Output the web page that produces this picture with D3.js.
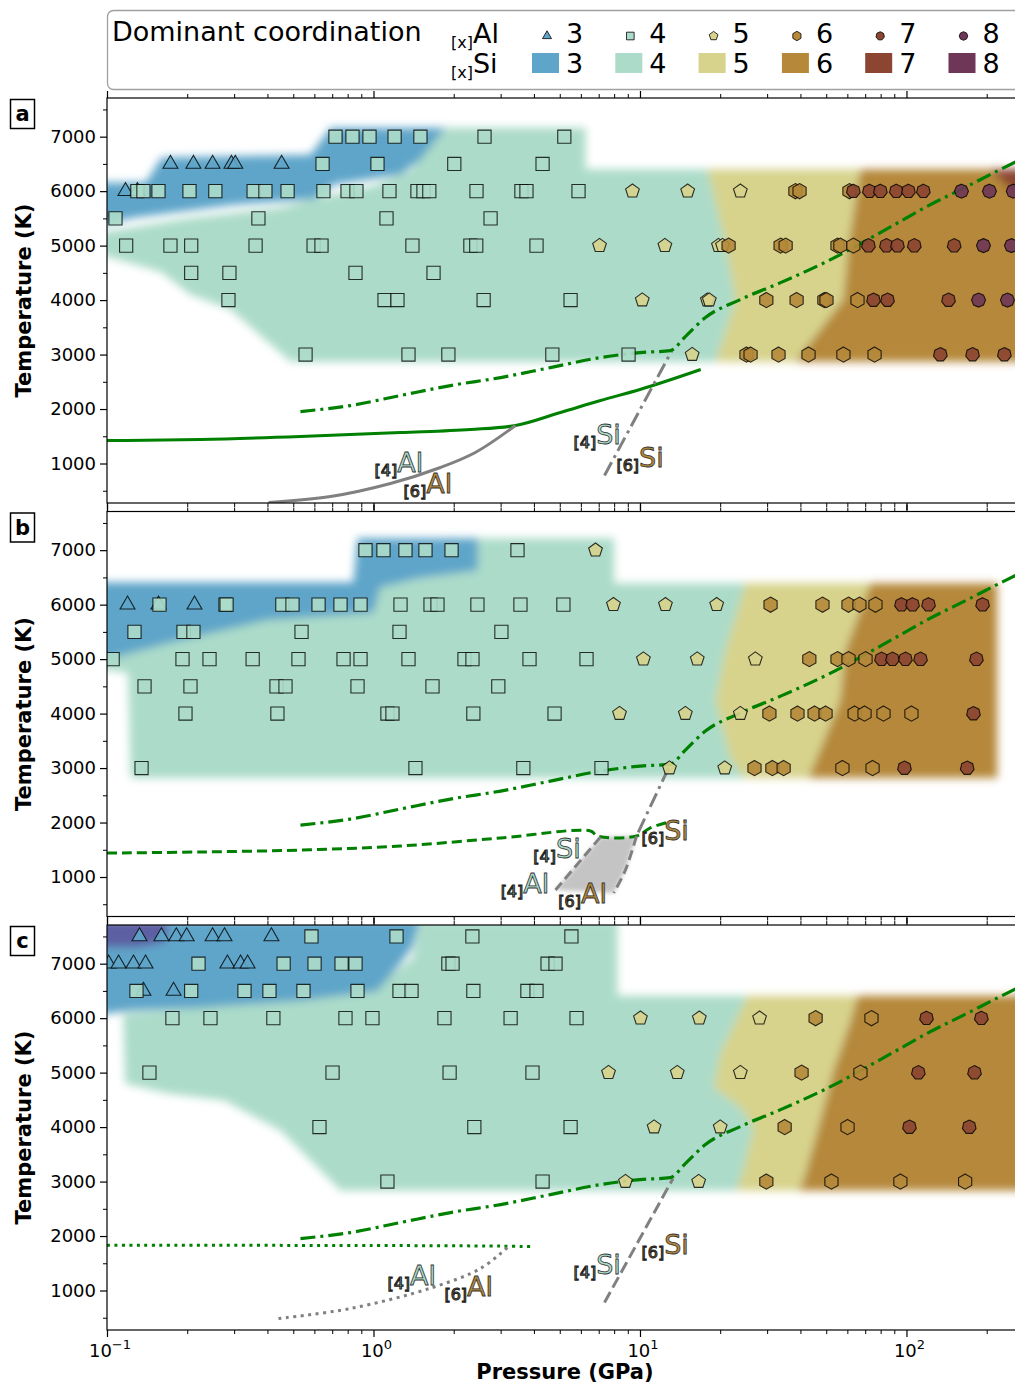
<!DOCTYPE html>
<html><head><meta charset="utf-8">
<script src="https://cdn.jsdelivr.net/npm/d3@7"></script>
<style>body{margin:0;background:#fff}svg{display:block}text{font-family:"DejaVu Sans",sans-serif}</style>
</head><body><svg id="c" width="1015" height="1385"></svg>
<script>
// ---------- data ----------
const coordNums = [3,4,5,6,7,8];
const coordColors = {2:"#5d5fa3",3:"#5fa5c9",4:"#acdbc9",5:"#d7d38c",6:"#b5883a",7:"#8b4531",8:"#6e3657"};
const yTicks = [1000,2000,3000,4000,5000,6000,7000];
const xTicks = [0.1,1,10,100];
const xTickExp = ["\u22121","0","1","2"];
const panelNames = ["a","b","c"];

// points: [T (K), coordination, [pressures GPa]]
const pointsA = [
 [7000,4,[0.72,0.834,0.966,1.2,1.5,2.61,5.2]],
 [6500,3,[0.173,0.211,0.249,0.293,0.303,0.452]],
 [6500,4,[0.644,1.035,2.01,4.31]],
 [6000,3,[0.1173,0.130]],
 [6000,4,[0.130,0.137,0.156,0.204,0.255,0.355,0.393,0.476,0.649,0.799,0.863,1.148,1.462,1.54,1.62,2.435,3.59,3.75,5.88]],
 [6000,5,[9.37,15.1,23.8]],
 [6000,6,[38.3,39.7,61.1]],
 [6000,7,[63.2,72.6,79.8,91.6,101.7,115.7]],
 [6000,8,[160.8,204.8,251.7]],
 [5500,4,[0.1076,0.370,1.119,2.75]],
 [5000,4,[0.118,0.173,0.207,0.361,0.596,0.638,1.40,2.31,2.43,4.09]],
 [5000,5,[7.05,12.4,19.7,20.4]],
 [5000,6,[21.5,33.7,35.2,55.1,56.5,63.2]],
 [5000,7,[72.0,84.1,92.5,107,151]],
 [5000,8,[194.5,247.7]],
 [4500,4,[0.207,0.288,0.856,1.68]],
 [4000,4,[0.2856,1.10,1.23,2.59,5.49]],
 [4000,5,[10.2,17.9,18.2]],
 [4000,6,[29.8,38.7,49.2,50.1,65.5]],
 [4000,7,[75.2,84.9,143.8]],
 [4000,8,[186.4,239.3]],
 [3000,4,[0.556,1.353,1.91,4.69,9.06]],
 [3000,5,[15.7]],
 [3000,6,[25.1,26.0,33.1,42.9,58.0,75.9]],
 [3000,7,[134,177,233]]
];
const pointsB = [
 [7000,4,[0.933,1.09,1.318,1.567,1.963,3.47]],
 [7000,5,[6.81]],
 [6000,3,[0.1194,0.156,0.213]],
 [6000,4,[0.1574,0.2784,0.281,0.455,0.4966,0.622,0.752,0.894,1.263,1.637,1.738,2.455,3.56,5.16]],
 [6000,5,[7.95,12.46,19.4]],
 [6000,6,[30.9,48.4,60.6,66.6,76.5]],
 [6000,7,[95.8,105.4,121,193]],
 [5500,4,[0.1268,0.1937,0.211,0.537,1.252,3.02]],
 [5000,4,[0.105,0.192,0.2425,0.352,0.523,0.772,0.894,1.353,2.195,2.352,3.85,6.30]],
 [5000,5,[10.3,16.4,27.1]],
 [5000,6,[43.2,55.1,60.6,70.2]],
 [5000,7,[80.6,88.6,99.1,112.9,183]],
 [4500,4,[0.1383,0.2057,0.4326,0.4675,0.871,1.665,2.94]],
 [4000,4,[0.197,0.436,1.128,1.178,2.37,4.78]],
 [4000,5,[8.38,14.8,23.8]],
 [4000,6,[30.6,39.0,45.2,49.7,63.9,69.6,82.0,104.4]],
 [4000,7,[178.4]],
 [3000,4,[0.1348,1.437,3.65,7.17]],
 [3000,5,[12.9,20.8]],
 [3000,6,[26.9,31.4,34.6,57.5,74.6]],
 [3000,7,[98.3,169]]
];
const pointsC = [
 [7500,3,[0.1324,0.160,0.182,0.199,0.249,0.276,0.414]],
 [7500,4,[0.585,1.22,2.35,5.53]],
 [7000,3,[0.1014,0.1105,0.1257,0.1395,0.283,0.317,0.337]],
 [7000,4,[0.2205,0.460,0.601,0.759,0.856,1.91,1.98,4.50,4.82]],
 [6500,3,[0.137,0.1777]],
 [6500,4,[0.129,0.207,0.328,0.407,0.546,0.871,1.252,1.389,2.37,3.78,4.09]],
 [6000,4,[0.176,0.2445,0.421,0.785,0.991,1.846,3.27,5.78]],
 [6000,5,[10.04,16.7,28.1]],
 [6000,6,[45.6,73.9]],
 [6000,7,[118.9,191]],
 [5000,4,[0.1443,0.702,1.93,3.95]],
 [5000,5,[7.62,13.8,23.8]],
 [5000,6,[40.4,67.2]],
 [5000,7,[110.8,180]],
 [4000,4,[0.627,2.39,5.49]],
 [4000,5,[11.3,20.0]],
 [4000,6,[34.9,60.1]],
 [4000,7,[102.6,172]],
 [3000,4,[1.128,4.31]],
 [3000,5,[8.82,16.6]],
 [3000,6,[29.8,52.3,94.9,166]]
];

// dominant-coordination regions: [coordination, [[P,T],...]]
const regionsA = [
 [4,[[0.085,5200],[0.2,5500],[0.45,5700],[0.65,5900],[1.0,6100],[1.4,6400],[1.7,7165],[6.25,7165],[6.25,6400],[17.9,6400],[20.9,5050],[22.8,4000],[19.2,2870],[0.49,2870],[0.29,3830],[0.206,4100],[0.159,4520],[0.085,4900]]],
 [3,[[0.085,6160],[0.14,6160],[0.16,6620],[0.58,6670],[0.69,7165],[1.86,7165],[1.5,6580],[1.26,6300],[0.71,6120],[0.6,5850],[0.3,5750],[0.126,5510],[0.085,5330]]],
 [5,[[17.9,6400],[67.2,6400],[60.6,5020],[58,4010],[47.5,3460],[38.3,2870],[19.2,2870],[22.8,4000],[20.9,5050]]],
 [6,[[67.2,6400],[320,6400],[320,2870],[38.3,2870],[47.5,3460],[58,4010],[60.6,5020]]],
 [7,[[205,6400],[320,6400],[320,5750],[245,6050]]]
];
const regionsB = [
 [4,[[0.085,4950],[0.17,5320],[0.4,5740],[1.0,5870],[1.06,6340],[1.8,6560],[2.0,7220],[8.0,7220],[8.0,6394],[24.9,6394],[20.9,5165],[19.2,4250],[21.9,3150],[24.9,2817],[0.1227,2817],[0.12,4750],[0.085,4850]]],
 [3,[[0.085,6410],[0.84,6410],[0.87,7220],[2.46,7220],[2.46,6630],[1.5,6490],[1.06,6320],[1.0,5850],[0.4,5720],[0.17,5290],[0.085,4900]]],
 [5,[[24.9,6394],[73.3,6394],[59,5165],[56.5,4250],[42.9,2817],[24.9,2817],[21.9,3150],[19.2,4250],[20.9,5165]]],
 [6,[[73.3,6394],[219,6394],[219,2817],[42.9,2817],[56.5,4250],[59,5165]]]
];
const regionsC = [
 [4,[[0.115,6083],[0.5,6350],[1.0,6550],[1.4,7100],[1.5,7800],[8.23,7800],[8.23,6413],[25.3,6413],[20.0,5349],[18.9,4725],[23.8,4358],[26.7,3991],[23.8,3018],[22.8,2835],[0.752,2835],[0.633,3202],[0.448,3936],[0.276,4486],[0.169,4615],[0.117,4798]]],
 [3,[[0.085,7800],[1.5,7800],[1.4,7300],[1.26,7000],[1.035,6500],[0.53,6320],[0.224,6190],[0.12,6130],[0.085,6040]]],
 [2,[[0.085,7800],[0.17,7800],[0.165,7400],[0.13,7300],[0.085,7300]]],
 [5,[[25.3,6413],[65.5,6413],[61.7,5954],[53.2,5037],[47.5,4119],[41.1,3018],[39.3,2835],[22.8,2835],[23.8,3018],[26.7,3991],[23.8,4358],[18.9,4725],[20.0,5349]]],
 [6,[[65.5,6413],[320,6413],[320,2835],[39.3,2835],[41.1,3018],[47.5,4119],[53.2,5037],[61.7,5954]]]
];

// curves [P, T]
const meltCurve = [[0.532,1954],[0.82,2064],[1.263,2248],[1.945,2431],[3.0,2578],[4.61,2761],[7.11,2945],[10,3037],[13.0,3073],[14.8,3330],[17.6,3679],[23.8,4009],[33.7,4321],[51.9,4743],[79.8,5239],[123,5752],[174,6119],[206,6303],[267,6580]];
const solidCurveA = [[0.1,1422],[0.224,1440],[0.532,1495],[1.263,1569],[2.31,1624],[3.41,1697],[5.03,1936],[7.11,2156],[10,2358],[16.9,2725]];
const alBoundaryA = [[0.404,284],[0.69,394],[1.158,633],[1.784,927],[2.41,1202],[3.41,1697]];
const siBoundaryA = [[7.36,780],[13.24,3092]];
const dashedCurveB = [[0.1,1440],[0.224,1459],[0.532,1495],[1.263,1569],[3.0,1716],[6.52,1844],[6.93,1752],[9.7,1752],[10.9,1899],[12.8,2009]];
const siUpperB = [[12.8,3000],[9.7,1752]];
const leftBoundaryB = [[7.11,1734],[4.82,761]];
const rightBoundaryB = [[9.7,1752],[8.82,1128],[7.97,706]];
const mixedZoneB = [[4.82,761],[7.11,1734],[9.7,1752],[8.82,1128],[7.97,706]];
const dottedCurveC = [[0.1,1830],[1.0,1826],[3.0,1815],[4.02,1805]];
const alBoundaryC = [[0.44,486],[0.82,670],[1.665,1055],[2.52,1404],[3.18,1789]];
const siBoundaryC = [[7.36,780],[13.3,3055]];

// phase labels: [coordination, element, P, T]
const labelsA = [[4,"Al",1.009,853],[6,"Al",1.296,450],[4,"Si",5.63,1349],[6,"Si",8.16,945]];
const labelsB = [[4,"Si",3.98,1349],[4,"Al",3.0,706],[6,"Al",4.94,523],[6,"Si",10.13,1679]];
const labelsC = [[4,"Al",1.128,1092],[6,"Al",1.846,908],[4,"Si",5.63,1312],[6,"Si",10.13,1679]];

// ---------- drawing ----------
const W=1015,H=1385,X0=107,X1=1020,PH=405;
const panelTops=[98,511.5,925];
const svg=d3.select("#c");
const defs=svg.append("defs");
const f=defs.append("filter").attr("id","blur").attr("filterUnits","userSpaceOnUse")
  .attr("x",-50).attr("y",-50).attr("width",W+100).attr("height",H+100);
f.append("feGaussianBlur").attr("stdDeviation",4.5);
const f2=defs.append("filter").attr("id","blur2").attr("filterUnits","userSpaceOnUse")
  .attr("x",-50).attr("y",-50).attr("width",W+100).attr("height",H+100);
f2.append("feGaussianBlur").attr("stdDeviation",2);

const x=d3.scaleLog().domain([0.1,266.7]).range([X0,X1]);
const markerR={3:8.6,4:9.3,5:7.2,6:7.6,7:7,8:7};
function polyPath(n,r){
  const start = n===4 ? -Math.PI/2+Math.PI/4 : -Math.PI/2;
  const pts=d3.range(n).map(k=>[r*Math.cos(start+2*Math.PI*k/n), r*Math.sin(start+2*Math.PI*k/n)]);
  return "M"+pts.map(p=>p[0].toFixed(2)+","+p[1].toFixed(2)).join("L")+"Z";
}

const panels=[
 {pts:pointsA,reg:regionsA,labels:labelsA},
 {pts:pointsB,reg:regionsB,labels:labelsB},
 {pts:pointsC,reg:regionsC,labels:labelsC}
];
const minorX=[];
[0.1,1,10,100].forEach(d=>{for(let k=2;k<=9;k++){if(d*k<266.7)minorX.push(d*k);}});
const minorY=d3.range(500,7701,1000);

panels.forEach((p,i)=>{
  const top=panelTops[i];
  const y=d3.scaleLinear().domain([275,7710]).range([top+PH,top]);
  defs.append("clipPath").attr("id","clip"+i).append("rect")
    .attr("x",X0).attr("y",top).attr("width",X1-X0).attr("height",PH);
  const g=svg.append("g").attr("clip-path",`url(#clip${i})`);
  const area=d3.line().x(d=>x(d[0])).y(d=>y(d[1])).curve(d3.curveLinearClosed);
  const rg=g.append("g").attr("filter","url(#blur)");
  p.reg.forEach(([cn,pts])=>rg.append("path").attr("d",area(pts)).attr("fill",coordColors[cn]));

  const line=d3.line().x(d=>x(d[0])).y(d=>y(d[1])).curve(d3.curveMonotoneX);
  const lineS=d3.line().x(d=>x(d[0])).y(d=>y(d[1])).curve(d3.curveCatmullRom);
  const draw=(data,color,dash,lw,gen)=>g.append("path").attr("d",(gen||line)(data)).attr("fill","none")
      .attr("stroke",color).attr("stroke-width",lw||3).attr("stroke-dasharray",dash||null).attr("stroke-linecap","butt");
  const DD="15,5,3,5", DA="10,5", DT="3,4.5";
  if(i===0){
    draw(solidCurveA,"#008000",null,3);
    draw(alBoundaryA,"#808080",null,3,lineS);
    draw(siBoundaryA,"#808080",DD,3,lineS);
  } else if(i===1){
    g.append("path").attr("d",area(mixedZoneB)).attr("fill","#c4c4c4").attr("filter","url(#blur2)");
    draw(dashedCurveB,"#008000",DA,3,lineS);
    draw(siUpperB,"#808080",DD,3,lineS);
    draw(leftBoundaryB,"#808080",DA,3,lineS);
    draw(rightBoundaryB,"#808080",DA,3,lineS);
  } else {
    draw(dottedCurveC,"#008000",DT,3,lineS);
    draw(alBoundaryC,"#808080",DT,3,lineS);
    draw(siBoundaryC,"#808080","12,5",3,lineS);
  }
  draw(meltCurve,"#008000",DD,3.2);

  // markers
  const mg=g.append("g");
  p.pts.forEach(([T,cn,Ps])=>Ps.forEach(P=>{
    mg.append("path").attr("d",polyPath(cn,markerR[cn]))
      .attr("transform",`translate(${x(P).toFixed(2)},${y(T).toFixed(2)})`)
      .attr("fill",coordColors[cn]).attr("fill-opacity",0.9)
      .attr("stroke","#000").attr("stroke-opacity",0.8).attr("stroke-width",1.1);
  }));

  // labels
  p.labels.forEach(([cn,el,P,T])=>{
    const t=svg.append("text").attr("x",x(P)).attr("y",y(T));
    t.append("tspan").attr("font-size",16).attr("dy",4).text(`[${cn}]`)
      .attr("fill",coordColors[cn]).attr("stroke","#222").attr("stroke-width",1.1);
    t.append("tspan").attr("font-size",27).attr("dy",-4).text(el)
      .attr("fill",coordColors[cn]).attr("stroke","#333").attr("stroke-width",0.8);
  });

  // frame
  svg.append("rect").attr("x",X0).attr("y",top).attr("width",X1-X0).attr("height",PH)
    .attr("fill","none").attr("stroke","#000").attr("stroke-width",1.2);

  // y axis
  const ya=svg.append("g").attr("transform",`translate(${X0},0)`)
    .call(d3.axisLeft(y).tickValues(yTicks).tickSize(7).tickSizeOuter(0).tickFormat(d3.format("d")));
  ya.select(".domain").remove();
  ya.selectAll("text").attr("font-size",18).attr("font-family","DejaVu Sans").attr("fill","#000").attr("x",-11);
  ya.selectAll("line").attr("stroke-width",1.2);
  const ym=svg.append("g").attr("transform",`translate(${X0},0)`)
    .call(d3.axisLeft(y).tickValues(minorY).tickSize(4).tickSizeOuter(0).tickFormat(""));
  ym.select(".domain").remove();

  // x axes top & bottom
  [["b",top+PH],["t",top]].forEach(([s,yy])=>{
    const ax = s==="b"? d3.axisBottom(x) : d3.axisTop(x);
    const a1=svg.append("g").attr("transform",`translate(0,${yy})`)
      .call(ax.tickValues(xTicks).tickSize(7).tickSizeOuter(0).tickFormat(""));
    a1.select(".domain").remove(); a1.selectAll("line").attr("stroke-width",1.2);
    const ax2 = s==="b"? d3.axisBottom(x) : d3.axisTop(x);
    const a2=svg.append("g").attr("transform",`translate(0,${yy})`)
      .call(ax2.tickValues(minorX).tickSize(4).tickSizeOuter(0).tickFormat(""));
    a2.select(".domain").remove();
  });

  // panel letter
  svg.append("rect").attr("x",10.5).attr("y",top+1.5).attr("width",24).attr("height",29)
    .attr("fill","#fff").attr("stroke","#000").attr("stroke-width",1.5);
  svg.append("text").attr("x",22.5).attr("y",top+23).attr("text-anchor","middle")
    .attr("font-size",21).attr("font-weight","bold").text(panelNames[i]);

  // y label
  svg.append("text").attr("transform",`translate(31,${top+PH/2}) rotate(-90)`)
    .attr("text-anchor","middle").attr("font-size",21).attr("font-weight","bold").text("Temperature (K)");
});

// x tick labels (bottom panel)
xTicks.forEach((v,k)=>{
  const t=svg.append("text").attr("x",x(v)+3).attr("y",1357).attr("text-anchor","middle").attr("font-size",18);
  t.append("tspan").text("10");
  t.append("tspan").attr("font-size",13).attr("dy",-8).text(xTickExp[k]);
});
svg.append("text").attr("x",565).attr("y",1379).attr("text-anchor","middle")
  .attr("font-size",21).attr("font-weight","bold").text("Pressure (GPa)");

// legend
const lg=svg.append("g");
lg.append("rect").attr("x",107.5).attr("y",10.5).attr("width",940).attr("height",79).attr("rx",6)
  .attr("fill","#fff").attr("stroke","#a0a0a0").attr("stroke-width",1.3);
lg.append("text").attr("x",112).attr("y",41).attr("font-size",27).text("Dominant coordination");
[["Al",43],["Si",73]].forEach(([el,by])=>{
  const t=lg.append("text").attr("x",451).attr("y",by);
  t.append("tspan").attr("font-size",16).attr("dy",5).text("[x]");
  t.append("tspan").attr("font-size",27).attr("dy",-5).text(el);
});
const legR={3:5.2,4:5.4,5:4.6,6:4.7,7:4.3,8:4.3};
coordNums.forEach((cn,k)=>{
  const cx=547+83.3*k;
  lg.append("path").attr("d",polyPath(cn,legR[cn])).attr("transform",`translate(${cx},36)`)
    .attr("fill",coordColors[cn]).attr("stroke","#000").attr("stroke-width",0.8);
  lg.append("text").attr("x",566+83.3*k).attr("y",43).attr("font-size",27).text(cn);
  lg.append("rect").attr("x",532+83.3*k).attr("y",53).attr("width",27).attr("height",20)
    .attr("fill",coordColors[cn]);
  lg.append("text").attr("x",566+83.3*k).attr("y",73).attr("font-size",27).text(cn);
});
</script></body></html>
